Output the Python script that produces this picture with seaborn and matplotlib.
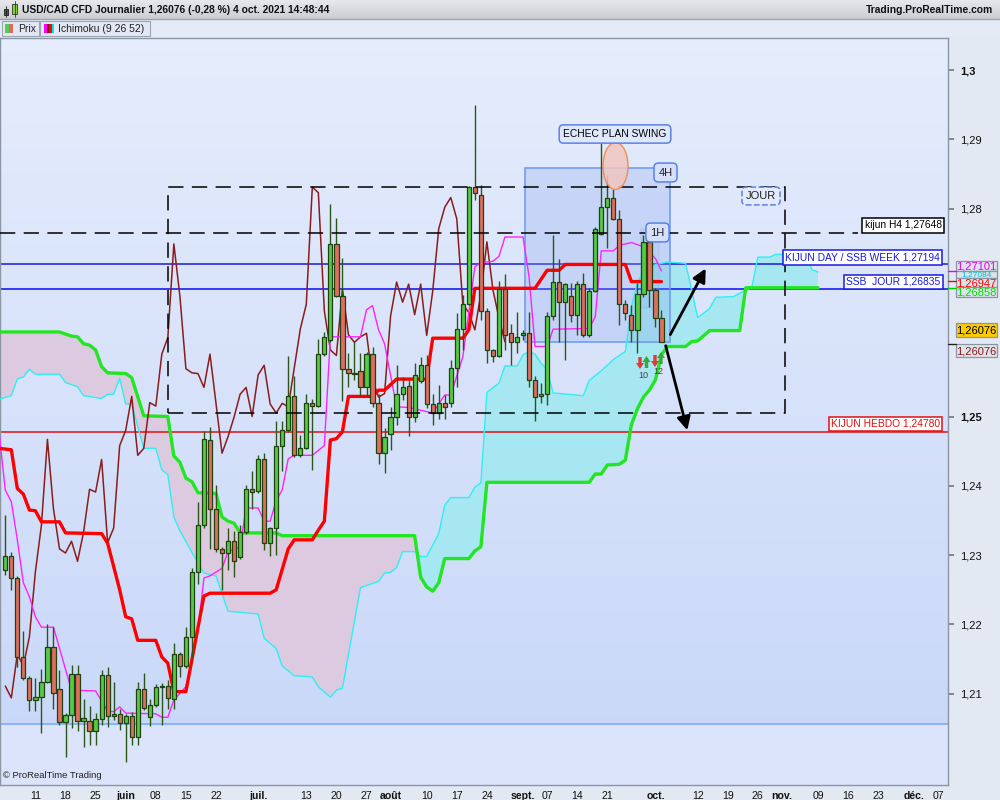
import numpy as np
import pandas as pd
import matplotlib
matplotlib.use("Agg")
import matplotlib.pyplot as plt
import seaborn as sns
from matplotlib.patches import Rectangle, Ellipse

sns.set_theme(style="white")
plt.rcParams['font.family'] = ['Liberation Sans', 'DejaVu Sans']

# ---- daily candles USD/CAD, one per business day from 4 May 2021 to 4 Oct 2021
opens = [1.2278, 1.2299, 1.2267, 1.2153, 1.2123, 1.2091, 1.2095, 1.2117, 1.2167, 1.2107,
         1.2059, 1.2069, 1.2128, 1.2061, 1.2061, 1.2046, 1.2063, 1.2127, 1.2068, 1.2071,
         1.2058, 1.2068, 1.2037, 1.2107, 1.2066, 1.2084, 1.2110, 1.2111, 1.2092, 1.2158,
         1.2140, 1.2182, 1.2275, 1.2343, 1.2466, 1.2367, 1.2309, 1.2303, 1.2320, 1.2297,
         1.2333, 1.2395, 1.2392, 1.2438, 1.2318, 1.2339, 1.2457, 1.2480, 1.2529, 1.2444,
         1.2454, 1.2520, 1.2515, 1.2590, 1.2610, 1.2749, 1.2674, 1.2569, 1.2563, 1.2566,
         1.2542, 1.2590, 1.2519, 1.2448, 1.2475, 1.2499, 1.2532, 1.2544, 1.2500, 1.2551,
         1.2574, 1.2518, 1.2505, 1.2519, 1.2520, 1.2570, 1.2626, 1.2662, 1.2831, 1.2819,
         1.2652, 1.2596, 1.2588, 1.2684, 1.2620, 1.2607, 1.2617, 1.2620, 1.2553, 1.2529,
         1.2533, 1.2645, 1.2694, 1.2665, 1.2674, 1.2647, 1.2691, 1.2617, 1.2681, 1.2763,
         1.2802, 1.2816, 1.2785, 1.2662, 1.2647, 1.2625, 1.2677, 1.2752, 1.2683, 1.2642]
highs = [1.2358, 1.2304, 1.2270, 1.2190, 1.2125, 1.2123, 1.2136, 1.2201, 1.2196, 1.2134,
         1.2072, 1.2141, 1.2141, 1.2092, 1.2082, 1.2072, 1.2134, 1.2138, 1.2117, 1.2078,
         1.2070, 1.2074, 1.2117, 1.2130, 1.2092, 1.2114, 1.2115, 1.2120, 1.2173, 1.2160,
         1.2196, 1.2281, 1.2376, 1.2479, 1.2485, 1.2401, 1.2312, 1.2339, 1.2335, 1.2344,
         1.2401, 1.2421, 1.2444, 1.2447, 1.2341, 1.2494, 1.2494, 1.2588, 1.2558, 1.2473,
         1.2533, 1.2525, 1.2612, 1.2622, 1.2806, 1.2786, 1.2729, 1.2592, 1.2607, 1.2591,
         1.2593, 1.2601, 1.2533, 1.2483, 1.2513, 1.2574, 1.2557, 1.2553, 1.2577, 1.2586,
         1.2589, 1.2533, 1.2545, 1.2531, 1.2581, 1.2649, 1.2675, 1.2832, 1.2950, 1.2834,
         1.2656, 1.2598, 1.2695, 1.2706, 1.2634, 1.2651, 1.2625, 1.2651, 1.2558, 1.2548,
         1.2651, 1.2762, 1.2727, 1.2693, 1.2692, 1.2695, 1.2707, 1.2685, 1.2774, 1.2897,
         1.2849, 1.2829, 1.2798, 1.2668, 1.2661, 1.2692, 1.2762, 1.2759, 1.2685, 1.2654]
lows = [1.2271, 1.2250, 1.2139, 1.2120, 1.2075, 1.2075, 1.2043, 1.2115, 1.2078, 1.2055,
        1.2009, 1.2050, 1.2046, 1.2023, 1.2026, 1.2026, 1.2055, 1.2052, 1.2062, 1.2048,
        1.2001, 1.2026, 1.2026, 1.2076, 1.2053, 1.2081, 1.2055, 1.2078, 1.2078, 1.2124,
        1.2137, 1.2153, 1.2259, 1.2339, 1.2309, 1.2304, 1.2250, 1.2279, 1.2269, 1.2295,
        1.2331, 1.2366, 1.2389, 1.2307, 1.2299, 1.2300, 1.2421, 1.2478, 1.2441, 1.2441,
        1.2453, 1.2423, 1.2513, 1.2587, 1.2608, 1.2672, 1.2523, 1.2543, 1.2553, 1.2529,
        1.2529, 1.2514, 1.2432, 1.2419, 1.2452, 1.2488, 1.2524, 1.2472, 1.2492, 1.2548,
        1.2512, 1.2488, 1.2497, 1.2497, 1.2514, 1.2543, 1.2596, 1.2661, 1.2812, 1.2639,
        1.2577, 1.2579, 1.2586, 1.2596, 1.2574, 1.2591, 1.2610, 1.2543, 1.2493, 1.2519,
        1.2517, 1.2639, 1.2608, 1.2582, 1.2637, 1.2618, 1.2615, 1.2615, 1.2680, 1.2762,
        1.2743, 1.2784, 1.2632, 1.2639, 1.2608, 1.2592, 1.2673, 1.2658, 1.2629, 1.2607]
closes = [1.2299, 1.2267, 1.2153, 1.2123, 1.2091, 1.2095, 1.2117, 1.2167, 1.2101, 1.2059,
          1.2069, 1.2128, 1.2061, 1.2065, 1.2046, 1.2063, 1.2127, 1.2068, 1.2071, 1.2058,
          1.2068, 1.2037, 1.2107, 1.2079, 1.2084, 1.2110, 1.2111, 1.2094, 1.2157, 1.2140,
          1.2182, 1.2276, 1.2343, 1.2467, 1.2367, 1.2309, 1.2303, 1.2320, 1.2291, 1.2333,
          1.2395, 1.2391, 1.2438, 1.2318, 1.2339, 1.2458, 1.2480, 1.2529, 1.2444, 1.2454,
          1.2520, 1.2515, 1.2590, 1.2614, 1.2749, 1.2674, 1.2569, 1.2563, 1.2562, 1.2542,
          1.2590, 1.2519, 1.2447, 1.2471, 1.2499, 1.2532, 1.2542, 1.2500, 1.2560, 1.2574,
          1.2518, 1.2505, 1.2519, 1.2514, 1.2570, 1.2626, 1.2662, 1.2831, 1.2823, 1.2652,
          1.2596, 1.2588, 1.2684, 1.2618, 1.2607, 1.2615, 1.2620, 1.2553, 1.2528, 1.2533,
          1.2645, 1.2694, 1.2665, 1.2691, 1.2647, 1.2691, 1.2617, 1.2681, 1.2771, 1.2802,
          1.2816, 1.2785, 1.2662, 1.2650, 1.2625, 1.2677, 1.2752, 1.2683, 1.2642, 1.26076]

# ---- Ichimoku lines, read as (bar index, value) vertices; bar 0 = 4 May 2021
tenkan_k = [-1, 0, 1, 2, 3, 4, 5, 6, 8, 11, 15, 17, 18, 19, 20, 25, 26, 27, 28, 30,
            31, 32, 33, 34, 36, 37, 39, 40, 42, 43, 44, 45, 46, 47, 48, 51, 53, 54, 59, 60,
            61, 62, 63, 65, 67, 69, 71, 73, 74, 76, 77, 78, 79, 81, 82, 83, 86, 87, 88, 90,
            91, 97, 98, 99, 101, 102, 104, 106, 108, 109]
tenkan_v = [1.2474, 1.2394, 1.2377, 1.2322, 1.2260, 1.2240, 1.2211, 1.2196, 1.2196, 1.2105,
            1.2104, 1.2075, 1.2074, 1.2081, 1.2072, 1.2071, 1.2066, 1.2066, 1.2091, 1.2110,
            1.2149, 1.2192, 1.2267, 1.2270, 1.2281, 1.2305, 1.2312, 1.2368, 1.2368, 1.2349,
            1.2349, 1.2379, 1.2394, 1.2439, 1.2444, 1.2444, 1.2458, 1.2615, 1.2615, 1.2654,
            1.2660, 1.2625, 1.2605, 1.2514, 1.2513, 1.2509, 1.2505, 1.2531, 1.2531, 1.2586,
            1.2650, 1.2716, 1.2722, 1.2724, 1.2731, 1.2759, 1.2759, 1.2702, 1.2601, 1.2601,
            1.2626, 1.2627, 1.2644, 1.2739, 1.2739, 1.2747, 1.2751, 1.2745, 1.2728, 1.27101]

kijun_k = [-1, 1, 2, 3, 4, 5, 6, 9, 10, 16, 17, 19, 20, 21, 22, 25, 26, 27, 28, 30,
           31, 33, 34, 44, 45, 47, 48, 51, 52, 53, 54, 55, 56, 57, 61, 62, 63, 65, 70, 71,
           76, 77, 78, 88, 90, 92, 93, 103, 104, 109]
kijun_v = [1.2454, 1.2452, 1.2396, 1.2388, 1.2365, 1.2364, 1.2348, 1.2348, 1.2332, 1.2331,
           1.2317, 1.2250, 1.2211, 1.2208, 1.2177, 1.2177, 1.2153, 1.2144, 1.2103, 1.2103,
           1.2149, 1.2241, 1.2245, 1.2245, 1.2250, 1.2309, 1.2322, 1.2322, 1.2336, 1.2349,
           1.2466, 1.2468, 1.2478, 1.2529, 1.2529, 1.2538, 1.2538, 1.2554, 1.2554, 1.2613,
           1.2613, 1.2625, 1.2685, 1.2685, 1.2711, 1.2711, 1.27194, 1.27194, 1.26947, 1.26947]

ssa_k = [-1, 1, 2, 3, 4, 5, 9, 10, 12, 13,
         16, 17, 18, 19, 20, 21, 23, 25, 26, 27,
         28, 29, 31, 33, 35, 37, 42, 43, 45, 46,
         48, 51, 52, 54, 55, 56, 59, 62, 63, 64,
         65, 66, 68, 69, 70, 72, 73, 74, 77, 78,
         79, 80, 82, 83, 85, 86, 87, 88, 89, 90,
         91, 96, 97, 99, 101, 103, 104, 105, 106, 108,
         109, 110, 113, 114, 115, 116, 117, 118, 121, 122,
         124, 125, 127, 128, 133, 134, 135]
ssa_v = [1.2525, 1.2530, 1.2554, 1.2557, 1.2568, 1.2561, 1.2561, 1.2549, 1.2543, 1.2530,
         1.2526, 1.2532, 1.2532, 1.2555, 1.2518, 1.2518, 1.2454, 1.2454, 1.2423, 1.2416,
         1.2355, 1.2335, 1.2304, 1.2274, 1.2270, 1.2219, 1.2215, 1.2180, 1.2165, 1.2140,
         1.2126, 1.2124, 1.2110, 1.2095, 1.2105, 1.2108, 1.2253, 1.2262, 1.2274, 1.2275,
         1.2282, 1.2305, 1.2305, 1.2298, 1.2298, 1.2331, 1.2372, 1.2383, 1.2383, 1.2398,
         1.2404, 1.2535, 1.2548, 1.2573, 1.2573, 1.2589, 1.2594, 1.2590, 1.2577, 1.2568,
         1.2534, 1.2530, 1.2552, 1.2566, 1.2582, 1.2594, 1.2658, 1.2693, 1.2709, 1.2719,
         1.2721, 1.2723, 1.2721, 1.2683, 1.2643, 1.2649, 1.2656, 1.2672, 1.2673, 1.2678,
         1.2686, 1.2730, 1.2730, 1.2734, 1.2734, 1.2712, 1.27084]

ssb_k = [-1, 9, 11, 12, 13, 14, 15, 16, 17, 20,
         21, 23, 27, 28, 29, 30, 31, 32, 35, 36,
         37, 38, 39, 45, 46, 68, 69, 70, 71, 72,
         73, 77, 78, 79, 80, 97, 98, 99, 100, 102,
         103, 104, 105, 106, 107, 108, 109, 110, 113, 114,
         115, 117, 122, 123, 135]
ssb_v = [1.2622, 1.2622, 1.2616, 1.2615, 1.2605, 1.2603, 1.2596, 1.2572, 1.2563, 1.2562,
         1.2556, 1.2501, 1.2500, 1.2443, 1.2434, 1.2411, 1.2406, 1.2390, 1.2389, 1.2355,
         1.2349, 1.2346, 1.2332, 1.2332, 1.2328, 1.2328, 1.2268, 1.2254, 1.2248, 1.2260,
         1.2295, 1.2295, 1.2306, 1.2312, 1.2405, 1.2405, 1.2417, 1.2417, 1.2430, 1.2431,
         1.2437, 1.2488, 1.2511, 1.2528, 1.2538, 1.2553, 1.2589, 1.2601, 1.2601, 1.2608,
         1.2609, 1.2624, 1.2624, 1.26858, 1.26858]

# horizontal levels drawn on the chart
kijun_h4 = 1.27648
kijun_day = 1.27194
ssb_jour = 1.26835
kijun_hebdo = 1.24780
support_line = 1.2056

# axis labels
ytick_vals = [1.30, 1.29, 1.28, 1.25, 1.24, 1.23, 1.22, 1.21]
ytick_labels = ['1,3', '1,29', '1,28', '1,25', '1,24', '1,23', '1,22', '1,21']
ytick_bold = [True, False, False, True, False, False, False, False]
xtick_dates = ['2021-05-11', '2021-05-18', '2021-05-25', '2021-06-01', '2021-06-08', '2021-06-15',
               '2021-06-22', '2021-07-01', '2021-07-13', '2021-07-20', '2021-07-27', '2021-08-02',
               '2021-08-10', '2021-08-17', '2021-08-24', '2021-09-01', '2021-09-07', '2021-09-14',
               '2021-09-21', '2021-10-01', '2021-10-12', '2021-10-19', '2021-10-26', '2021-11-01',
               '2021-11-09', '2021-11-16', '2021-11-23', '2021-12-01', '2021-12-07']
xtick_labels = ['11', '18', '25', 'juin', '08', '15', '22', 'juil.', '13', '20', '27', 'août',
                '10', '17', '24', 'sept.', '07', '14', '21', 'oct.', '12', '19', '26', 'nov.',
                '09', '16', '23', 'déc.', '07']

opens, highs, lows, closes = map(np.array, (opens, highs, lows, closes))
days = pd.bdate_range('2021-05-04', periods=170)
kk = np.arange(len(closes))
xt = [days.get_loc(pd.Timestamp(d)) for d in xtick_dates]


# pixel -> data helpers (only used to place drawn annotations)
def X(px):
    return (px - 5.3) / 6.02


def Y(py):
    return 1.30 - (py - 70) / 6930.0


fig = plt.figure(figsize=(10, 8), dpi=100)
fig.patch.set_facecolor('#e3e9f3')
ax = fig.add_axes([0, 15 / 800, 948 / 1000, 747 / 800])
xl, xr, yb, yt = X(0), X(948), Y(785), Y(38)

# background gradient
rows = np.linspace(38, 785, 400)
c_top = np.array([0.900, 0.927, 0.988])
c_mid = np.array([0.790, 0.850, 0.975])
c_low = np.array([0.862, 0.898, 0.985])
t = np.clip((rows - 38) / (724 - 38), 0, 1)[:, None]
grad = c_top * (1 - t) + c_mid * t
grad[rows > 724] = c_low
ax.imshow(grad[:, None, :], extent=[xl, xr, yb, yt], aspect='auto', zorder=0)

# cloud
grid = np.linspace(-1, 135, 2721)
a = np.interp(grid, ssa_k, ssa_v)
b = np.interp(grid, ssb_k, ssb_v)
ax.fill_between(grid, a, b, where=a >= b, interpolate=True, color='#a6e7f1', lw=0, zorder=1)
ax.fill_between(grid, a, b, where=a < b, interpolate=True, color='#dccae0', lw=0, zorder=1)

# horizontal levels
ax.axhline(kijun_day, color='#1a1ae0', lw=1.1, zorder=2)
ax.axhline(ssb_jour, color='#0a0af5', lw=1.1, zorder=2)
ax.axhline(kijun_hebdo, color='#e01010', lw=1.1, zorder=2)
ax.axhline(support_line, color='#6fa6ff', lw=1.1, zorder=2)
ax.hlines(kijun_h4, xl, X(858), colors='black', linestyles=(0, (10, 5.5)), lw=1.1, zorder=7)

# blue zones
ax.add_patch(Rectangle((X(525), Y(342)), X(670) - X(525), Y(168) - Y(342),
                       fc='#8aa6ee', alpha=0.28, ec='none', zorder=3))
ax.add_patch(Rectangle((X(525), Y(342)), X(670) - X(525), Y(168) - Y(342),
                       fill=False, ec='#6a98f0', lw=1.1, zorder=3))
ax.add_patch(Rectangle((X(640.7), Y(308)), X(658.7) - X(640.7), Y(229) - Y(308),
                       fc='#8aa6ee', alpha=0.15, ec='#6a98f0', lw=1.1, zorder=3))

# Ichimoku lines
sns.lineplot(x=ssa_k, y=ssa_v, ax=ax, color='#30eef2', lw=1.0, estimator=None, sort=False, zorder=4)
sns.lineplot(x=ssb_k, y=ssb_v, ax=ax, color='#22e622', lw=2.4, estimator=None, sort=False, zorder=4)
sns.lineplot(x=kk[:len(closes) - 26], y=closes[26:], ax=ax, color='#8b1c1c', lw=1.1,
             estimator=None, sort=False, zorder=4)
sns.lineplot(x=tenkan_k, y=tenkan_v, ax=ax, color='#ff22ff', lw=1.0, estimator=None, sort=False, zorder=4)
sns.lineplot(x=kijun_k, y=kijun_v, ax=ax, color='#ff0000', lw=2.4, estimator=None, sort=False, zorder=4)

# candles
up = closes >= opens
body_col = np.where(up, '#56c946', '#e06e5e')
ax.vlines(kk, lows, highs, color='#2b5716', lw=1.0, zorder=5)
ax.bar(kk, np.maximum(np.abs(closes - opens), 0.00008), bottom=np.minimum(opens, closes),
       width=0.7, color=body_col, edgecolor='#1f4210', lw=0.9, zorder=6)

# dashed rectangle
ax.add_patch(Rectangle((X(168), Y(413)), X(785) - X(168), Y(187) - Y(413), fill=False,
                       ec='black', lw=1.1, ls=(0, (10, 5.5)), zorder=7))

# orange ellipse
ax.add_patch(Ellipse((X(615.5), Y(166)), 25 / 6.02, 47 / 6930.0, fc='#f2c6c0', alpha=0.85,
                     ec='#f08848', lw=1.1, zorder=7))

# arrows
ax.annotate('', xy=(X(707), Y(266)), xytext=(X(669), Y(337)),
            arrowprops=dict(arrowstyle='-|>', color='black', lw=2, mutation_scale=20), zorder=8)
ax.annotate('', xy=(X(688), Y(433)), xytext=(X(665), Y(343)),
            arrowprops=dict(arrowstyle='-|>', color='black', lw=2, mutation_scale=20), zorder=8)
ax.text(X(643), Y(375), '10', fontsize=6.5, color='#444', ha='center', va='center', zorder=8)
ax.text(X(658), Y(371), '12', fontsize=6.5, color='#444', ha='center', va='center', zorder=8)


# labelled boxes
def label(px, py, s, col, ec, fc='white', style='square,pad=0.22', ls='-', fs=7.4):
    ax.text(X(px), Y(py), s, color=col, fontsize=fs, ha='center', va='center', zorder=9,
            bbox=dict(boxstyle=style, fc=fc, ec=ec, lw=1.1, ls=ls))


label(903, 225.5, 'kijun H4 1,27648', 'black', 'black')
label(862.5, 257.5, 'KIJUN DAY / SSB WEEK 1,27194', '#1a1ae0', '#1a1ae0')
label(893.5, 282, 'SSB  JOUR 1,26835', '#1a1ae0', '#1a1ae0')
label(885.5, 424, 'KIJUN HEBDO 1,24780', '#e01010', '#e01010')
label(615, 134, 'ECHEC PLAN SWING', 'black', '#5a82e6', fc='#dfe8fb', style='round,pad=0.4')
label(665.5, 172.5, '4H', '#222', '#5a82e6', fc='#d6e0fa', style='round,pad=0.4', fs=8)
label(657.5, 232.5, '1H', '#222', '#5a82e6', fc='#d6e0fa', style='round,pad=0.4', fs=8)
label(761, 196, 'JOUR', '#222', '#5a82e6', fc='#e2eafb', style='round,pad=0.35', ls='--', fs=8)

ax.set_xlim(xl, xr)
ax.set_ylim(yb, yt)

# axes / ticks
ax.yaxis.tick_right()
ax.set_yticks(ytick_vals)
ax.set_yticklabels(ytick_labels)
for lab, bold in zip(ax.get_yticklabels(), ytick_bold):
    lab.set_fontweight('bold' if bold else 'normal')
ax.tick_params(axis='y', length=4, pad=5, labelsize=8, colors='#111', color='#777')
ax.set_xticks(xt)
ax.set_xticklabels(xtick_labels)
for lab in ax.get_xticklabels():
    if not lab.get_text().isdigit():
        lab.set_fontweight('bold')
ax.tick_params(axis='x', length=3, pad=1.5, labelsize=7.6, colors='#111', color='#777')
for sp in ax.spines.values():
    sp.set_color('#8a96a3')
    sp.set_linewidth(1)
ax.grid(False)

# ---- overlay in pixel coordinates (header, legend, value boxes, signal arrows)
ov = fig.add_axes([0, 0, 1, 1], zorder=10)
ov.patch.set_alpha(0)
hdr = np.linspace(0.90, 0.80, 20)[:, None, None] * np.array([1.0, 1.01, 1.025])[None, None, :]
ov.imshow(np.clip(hdr, 0, 1), extent=[0, 1000, 19, 0], aspect='auto')
ov.add_patch(Rectangle((0, 19), 1000, 18, fc='#e4eaf6', ec='none'))
ov.plot([0, 1000], [19, 19], color='#9aa4ae', lw=1)
ov.add_patch(Rectangle((4, 9), 4, 6, fc='#505050', ec='#222', lw=0.6))
ov.plot([6, 6], [6, 17], color='#222', lw=0.6)
ov.add_patch(Rectangle((12, 4), 5, 10, fc='#86d62a', ec='#333', lw=0.6))
ov.plot([14.5, 14.5], [1, 17], color='#333', lw=0.6)
ov.text(22, 10, 'USD/CAD CFD Journalier 1,26076 (-0,28 %) 4 oct. 2021 14:48:44',
        fontsize=7.4, fontweight='bold', va='center', ha='left', color='#111')
ov.text(993, 10, 'Trading.ProRealTime.com', fontsize=7.4, fontweight='bold',
        va='center', ha='right', color='#111')

ov.add_patch(Rectangle((2, 20.5), 37, 15.5, fc='#e2e8f3', ec='#9aa6b4', lw=0.8))
ov.add_patch(Rectangle((5, 23.5), 4, 9, fc='#55cc55', ec='none'))
ov.add_patch(Rectangle((9, 23.5), 4, 9, fc='#e06a5a', ec='none'))
ov.text(18, 28.5, 'Prix', fontsize=7.5, va='center', color='#222')
ov.add_patch(Rectangle((40, 20.5), 110, 15.5, fc='#e2e8f3', ec='#9aa6b4', lw=0.8))
for i, c in enumerate(['#ff00ff', '#800000', '#ff0000', '#00e5e5']):
    ov.add_patch(Rectangle((44 + 2.6 * i, 23.5), 2.6, 9, fc=c, ec='none'))
ov.text(58, 28.5, 'Ichimoku (9 26 52)', fontsize=7.5, va='center', color='#222')

ov.text(3, 776, '© ProRealTime Trading', fontsize=6.8, va='center', color='#222')

# signal arrows (red down / green up)
for x, y0, dy, c in [(640, 357, 12, '#e23a3a'), (646.5, 368, -12, '#3aa83a'),
                     (655, 355, 12, '#e23a3a'), (661, 364, -12, '#3aa83a')]:
    ov.arrow(x, y0, 0, dy, width=3.4, head_width=8, head_length=6,
             length_includes_head=True, fc=c, ec='none')

for y, col in [(271, '#ee00ee'), (281, '#ff0000'), (288, '#00cc00'), (344, '#222222')]:
    ov.plot([948, 956], [y, y], color=col, lw=1)
for top, bot, s, col, fc, fs in [(261, 271, '1,27101', '#ee00ee', '#dde3ea', 8),
                                 (271, 278, '1,27084', '#00bfc4', '#dde3ea', 6),
                                 (278, 287, '1,26947', '#ff0000', '#dde3ea', 8),
                                 (287, 297, '1,26858', '#00dd00', '#dde3ea', 8),
                                 (323, 337, '1,26076', '#000000', '#ffcc00', 8),
                                 (344, 357, '1,26076', '#8b1a1a', '#dde3ea', 8)]:
    ov.add_patch(Rectangle((956, top), 41, bot - top, fc=fc, ec='#8a96a3', lw=0.9))
    ov.text(976.5, (top + bot) / 2 + 0.5, s, fontsize=fs, color=col, ha='center', va='center')

ov.set_xlim(0, 1000)
ov.set_ylim(800, 0)
ov.axis('off')

fig.savefig('out.png', dpi=100, facecolor=fig.get_facecolor())
